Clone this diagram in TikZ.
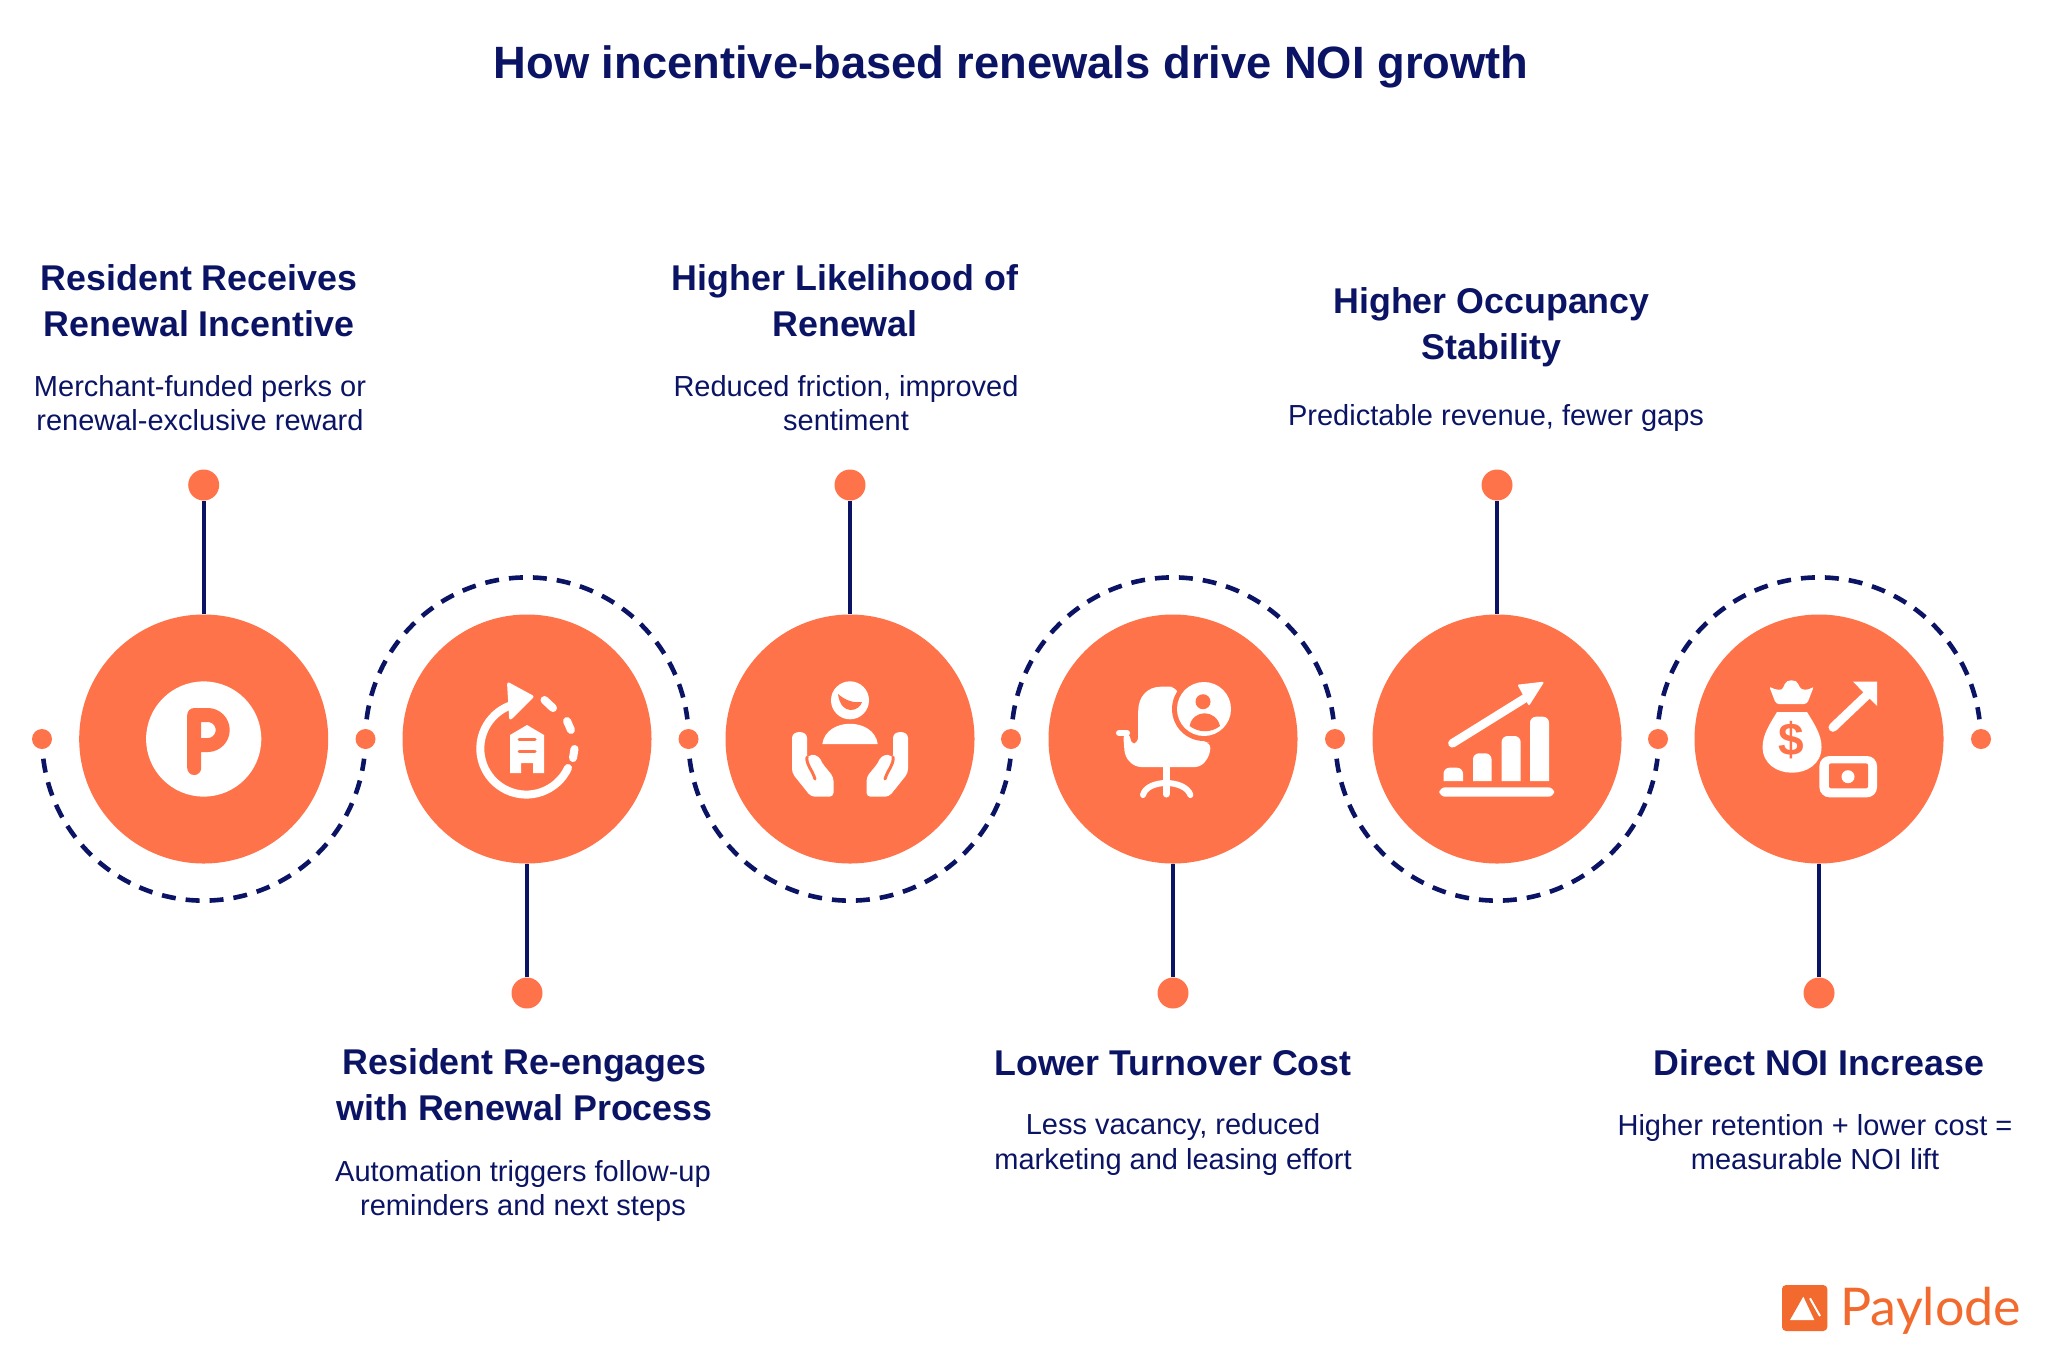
\documentclass[tikz,border=0pt]{standalone}
\usepackage{fontspec}
\usepackage{xcolor}
\setmainfont{Liberation Sans}
\newfontfamily\logofont{Lato}
\definecolor{navy}{HTML}{0B1464}
\definecolor{coral}{HTML}{FF734A}
\definecolor{brand}{HTML}{F26A2E}
\tikzset{
  bigdisc/.style={circle,fill=coral,minimum size=124.5pt,inner sep=0pt},
  tipdot/.style={circle,fill=coral,minimum size=15.5pt,inner sep=0pt},
  jointdot/.style={circle,fill=coral,minimum size=10pt,inner sep=0pt},
  stemline/.style={navy,line width=2.2pt},
  dashline/.style={navy,line width=2.3pt,dash pattern=on 7pt off 5pt},
  maintitle/.style={text=navy,font=\bfseries\fontsize{22.65}{27}\selectfont},
  headtxt/.style={text=navy,align=center,font=\bfseries\fontsize{17.9}{23}\selectfont},
  bodytxt/.style={text=navy,align=center,font=\fontsize{14.5}{17.3}\selectfont},
  iconline/.style={white,line cap=round,line join=round},
}
\begin{document}
\begin{tikzpicture}[x=0.5pt,y=-0.5pt]
  \useasboundingbox (0,0) rectangle (2048,1361);
  \node[maintitle] (title) at (1011,67) {How incentive-based renewals drive NOI growth};
  \foreach \n/\x in {0/42,1/365.5,2/688.5,3/1011,4/1335,5/1658,6/1981}{
    \node[jointdot] (joint\n) at (\x,739) {};
  }
  \foreach \n/\x/\ty/\a/\b in {1/203.7/485/173/7,2/527/993/187/353,3/850/485/173/7,4/1173/993/187/353,5/1497/485/173/7,6/1819/993/187/353}{
    \node[bigdisc] (disc\n) at (\x,739) {};
    \node[tipdot] (tip\n) at (\x,\ty) {};
    \draw[stemline] (disc\n) -- (tip\n);
    \draw[dashline] ([shift={(\a:161.6)}]disc\n.center) arc[start angle=\a,end angle=\b,radius=161.6];
  }

  \node[headtxt] (head1) at (199,301) {Resident Receives\\Renewal Incentive};
  \node[bodytxt] (body1) at (200,403) {Merchant-funded perks or\\renewal-exclusive reward};
  \node[headtxt] (head2) at (524.5,1085) {Resident Re-engages\\with Renewal Process};
  \node[bodytxt] (body2) at (523,1191) {Automation triggers follow-up\\reminders and next steps};
  \node[headtxt] (head3) at (845,301) {Higher Likelihood of\\Renewal};
  \node[bodytxt] (body3) at (846,403) {Reduced friction, improved\\sentiment};
  \node[headtxt] (head4) at (1173,1063) {Lower Turnover Cost};
  \node[bodytxt] (body4) at (1173,1144.5) {Less vacancy, reduced\\marketing and leasing effort};
  \node[headtxt] (head5) at (1491.5,327) {Higher Occupancy\\Stability};
  \node[bodytxt] (body5) at (1496,418) {Predictable revenue, fewer gaps};
  \node[headtxt] (head6) at (1819,1063) {Direct NOI Increase};
  \node[bodytxt] (body6) at (1815,1142) {Higher retention + lower cost =\\measurable NOI lift};

  \begin{scope}[shift={(disc1.center)}]
    \fill[white] (0,0) circle[radius=57.6];
    \draw[coral,line width=7pt,line cap=round,line join=round] (-9.5,29) -- (-9.5,-24) -- (4,-24)
      arc[start angle=-90,end angle=90,radius=15] -- (-9.5,6);
  \end{scope}

  \begin{scope}[shift={(disc2.center)}]
    \draw[iconline,line width=4pt] (41,29) arc[start angle=25,end angle=248,radius=46];
    \fill[iconline,line width=1.5pt,draw=white] (-18.4,-55) -- (5,-42.3) -- (-16.4,-21) -- cycle;
    \draw[iconline,line width=4pt] (17.5,-39) -- (26,-31);
    \draw[iconline,line width=4pt] (40,-18) -- (44,-9);
    \draw[iconline,line width=4pt] (47.5,10) -- (46,19);
    \fill[white] (0,-14) -- (17,-4) -- (17,34) -- (6,34) -- (6,24) -- (-6,24) -- (-6,34) -- (-17,34) -- (-17,-4) -- cycle;
    \draw[coral,line width=1.5pt,line cap=round] (-8,0) -- (8,0);
    \draw[coral,line width=1.5pt,line cap=round] (-8,12) -- (8,12);
  \end{scope}

  \begin{scope}[shift={(disc3.center)}]
    \fill[white] (0,-38.7) circle[radius=19];
    \fill[coral] (-12,-45) .. controls (-4,-38) and (4,-36) .. (12,-37) .. controls (10,-28) and (-9,-22) .. (-12,-45) -- cycle;
    \fill[white] (-27.7,5) .. controls (-24,-22) and (24,-22) .. (27.7,5) -- cycle;
    \foreach \sg in {1,-1}{
      \begin{scope}[xscale=\sg]
        \fill[white,rounded corners=2pt] (-58,3) .. controls (-58,-9) and (-43,-9) .. (-43,3) -- (-43,20)
          .. controls (-38,14) and (-31,17) .. (-28,24) -- (-16.5,38) -- (-16.5,57.7) -- (-39,57.7) -- (-58,34) -- cycle;
        \draw[coral,line width=1.5pt,line cap=round] (-43,18) .. controls (-44,26) and (-38,30) .. (-35,40);
      \end{scope}
    }
  \end{scope}

  \begin{scope}[shift={(disc4.center)}]
    \draw[white,line width=3.5pt,line cap=round] (-7,28) -- (-7,55);
    \draw[white,line width=3pt,line cap=round] (-30,56) .. controls (-26,40) and (12,40) .. (17.4,56);
    \fill[white,rounded corners=3pt] (-34.8,4) -- (-34.8,-22) .. controls (-34.8,-42) and (-26,-52.3) .. (-6,-52.3)
      -- (2,-52.3) -- (30,4) -- (37.5,3) -- (37,16) -- (28,28) -- (-38,28) -- (-48,18) -- (-50,-6) -- (-43,-6) -- (-42,6) -- cycle;
    \draw[white,line width=3pt,line cap=round] (-54,-6) -- (-46,-6);
    \fill[coral] (31,-30) circle[radius=32];
    \fill[white] (31,-30) circle[radius=27];
    \fill[coral] (30,-37.3) circle[radius=7.5];
    \fill[coral] (16.6,-13) .. controls (20,-30) and (43,-30) .. (47,-13) .. controls (38,-6) and (26,-6) .. (16.6,-13) -- cycle;
  \end{scope}

  \begin{scope}[shift={(disc5.center)}]
    \fill[white,rounded corners=3pt] (-57.7,48.3) rectangle (57.2,57.7);
    \foreach \xa/\xb/\yt in {-53.5/-34/28.7,-24/-5.5/14.3,4.6/23.6/-3,33/52/-22.3}{
      \fill[white] (\xa,42) [rounded corners=3pt] -- (\xa,\yt) -- (\xb,\yt) [sharp corners] -- (\xb,42) -- cycle;
    }
    \draw[iconline,line width=4.3pt] (-44.6,4.3) -- (27.8,-40.7);
    \fill[iconline,draw=white,line width=1pt] (45.4,-56.2) -- (22,-53.5) -- (32,-35) -- cycle;
  \end{scope}

  \begin{scope}[shift={(disc6.center)}]
    \fill[white,rounded corners=1.5pt] (-50,-53) .. controls (-44,-49) and (-38,-49) .. (-35,-52)
      .. controls (-33,-60) and (-22,-60) .. (-20,-52) .. controls (-16,-49) and (-10,-49) .. (-5,-53)
      -- (-12,-35) -- (-43,-35) -- cycle;
    \fill[white] (-12,-27) -- (-42,-27) .. controls (-50,-14) and (-56.4,-4) .. (-56.4,8) .. controls (-56.4,25) and (-42,33.7) .. (-27,33.7)
      .. controls (-12,33.7) and (2.5,25) .. (2.5,8) .. controls (2.5,-4) and (-4,-14) .. (-12,-27) -- cycle;
    \node[text=coral,font=\bfseries\fontsize{23}{23}\selectfont] (dollar) at (-28,1) {\$};
    \draw[iconline,line width=4.5pt] (14,-11.7) -- (48,-44);
    \fill[white] (58,-57.3) -- (34,-57.3) -- (58,-33) -- cycle;
    \fill[white,rounded corners=5pt] (0.4,17) rectangle (58,58.3);
    \fill[coral,rounded corners=1pt] (10,24.3) rectangle (49,49.3);
    \fill[white] (29,37.7) circle[radius=6.5];
  \end{scope}

  \fill[brand,rounded corners=2pt] (1782,1285) rectangle (1827.3,1331);
  \fill[white] (1803.3,1296.7) -- (1790,1320) -- (1814.3,1320) -- cycle;
  \draw[white,line width=1pt] (1810,1298.3) -- (1820,1316);
  \node[text=brand,anchor=base west,inner sep=0pt,font=\logofont\fontsize{26}{28}\selectfont] (logotxt) at (1840,1325.7) {Paylode};
\end{tikzpicture}
\end{document}
